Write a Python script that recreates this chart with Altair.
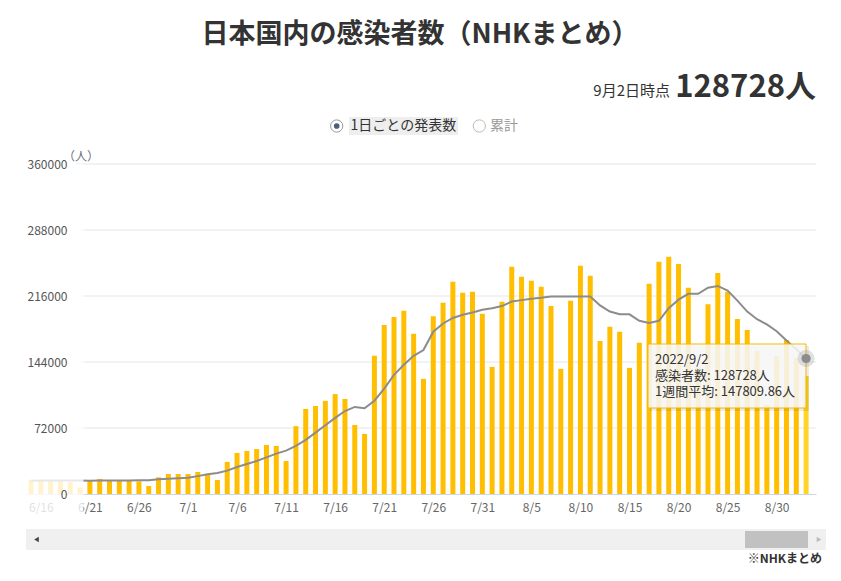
import altair as alt
import pandas as pd

# ---- data ----
dates = list(pd.date_range("2022-06-15", "2022-09-02").strftime("%Y-%m-%d"))

cases = [
    15500, 15000, 14500, 15000, 13000, 7000,                       # 6/15-6/20 (scrolled out)
    15300, 16400, 15000, 14600, 15000, 13800, 8700, 18200, 21800, 21800,  # 6/21-6/30
    21800, 24000, 21000, 15300, 35000, 44800, 47000, 49000, 53500, 52400,  # 7/1-7/10
    36000, 74000, 92800, 96000, 101600, 109000, 103700, 75300, 65500, 150700,  # 7/11-7/20
    184500, 193000, 200000, 174700, 125600, 194000, 208600, 231500, 219500, 220600,  # 7/21-7/30
    196600,                                                          # 7/31
    138700, 209700, 248000, 237000, 232600, 226000, 205000, 136500, 210800, 249000,  # 8/1-8/10
    238000, 167000, 182400, 177000, 137600, 165000, 229300, 253400, 258800, 251000,  # 8/11-8/20
    225000, 138000, 207000, 241000, 220600, 191000, 179000, 156000, 97000, 150600,  # 8/21-8/30
    168000,                                                          # 8/31
    148000, 128728,                                                  # 9/1-9/2
]

week_avg = [
    14500, 14600, 14600, 14700, 14700, 14600,
    14500, 14600, 14700, 14800, 14800, 14900, 15000, 16000, 16600, 17100,
    17800, 19500, 21500, 23000, 25500, 29500, 32800, 36000, 40000, 44000,
    47300, 52400, 59000, 67000, 75000, 83000, 90500, 95000, 93500, 101800,
    115000, 130000, 141000, 150700, 157000, 177000, 186000, 192000, 195500, 198000,
    201000,
    202700, 205000, 210000, 211500, 213000, 214000, 215500, 215500, 215500, 215500,
    215500, 205700, 199000, 196000, 196000, 189000, 186700, 189000, 202700, 212000,
    218400, 218400, 225000, 227000, 222000, 211000, 199000, 190700, 185000, 177600,
    167400,
    158000, 147809.86,
]

y_ticks = [0, 72000, 144000, 216000, 288000, 360000]
x_label_days = [(6, 16), (6, 21), (6, 26), (7, 1), (7, 6), (7, 11), (7, 16), (7, 21),
                (7, 26), (7, 31), (8, 5), (8, 10), (8, 15), (8, 20), (8, 25), (8, 30)]

title_text = "日本国内の感染者数（NHKまとめ）"
asof_text = "9月2日時点"
total_text = "128728人"
legend_items = ["1日ごとの発表数", "累計"]
unit_text = "（人）"
source_text = "※NHKまとめ"
tip_lines = ["2022/9/2", "感染者数: 128728人", "1週間平均: 147809.86人"]

df = pd.DataFrame({"date": dates, "cases": cases, "avg": week_avg})

FONT = "Noto Sans CJK JP"
W, H = 790, 330

x_enc = alt.X(
    "date:T",
    scale=alt.Scale(
        type="utc",
        domain=[alt.DateTime(year=2022, month=6, date=15, utc=True),
                alt.DateTime(year=2022, month=9, date=2, hours=12, utc=True)],
    ),
    axis=alt.Axis(
        values=[alt.DateTime(year=2022, month=m, date=d, utc=True) for m, d in x_label_days],
        format="%-m/%-d", title=None, grid=False, ticks=False, tickSize=0,
        domainColor="#ccd6eb", domainWidth=1, labelColor="#666666",
        labelFont=FONT, labelFontSize=12, labelPadding=8,
        labelOverlap=False, labelFlush=False,
    ),
)
y_scale = alt.Scale(domain=[0, 360000], nice=False)
y_axis = alt.Axis(
    values=y_ticks, format="d", title=None, grid=False, domain=False,
    ticks=False, offset=-50, labelPadding=9, labelColor="#555555",
    labelFont=FONT, labelFontSize=12, zindex=1,
)

base = alt.Chart(df)

grid = alt.Chart(pd.DataFrame({"v": y_ticks[1:]})).mark_rule(
    color="#e6e6e6", strokeWidth=1
).encode(y=alt.Y("v:Q", scale=y_scale, axis=y_axis), x=alt.value(50), x2=alt.value(W))

bars = base.mark_bar(size=5, clip=True).encode(
    x=x_enc, y=alt.Y("cases:Q", scale=y_scale, axis=y_axis),
    color=alt.condition(
        "utcmonth(datum.date) == 8 && utcdate(datum.date) == 2",
        alt.value("#FFD426"), alt.value("#FFBE00"),
    ),
)

line = base.mark_line(clip=True, color="#8c8c8c", strokeWidth=2).encode(
    x="date:T", y=alt.Y("avg:Q", scale=y_scale, axis=y_axis)
)

overlay = alt.Chart(pd.DataFrame({"a": [0]})).mark_rect(
    color="white", opacity=0.8
).encode(x=alt.value(0), x2=alt.value(57.5), y=alt.value(0), y2=alt.value(362))

last = base.transform_filter("utcmonth(datum.date) == 8 && utcdate(datum.date) == 2")
halo = last.mark_point(filled=True, color="#8c8c8c", opacity=0.25, size=290).encode(
    x="date:T", y=alt.Y("avg:Q", scale=y_scale, axis=y_axis))
dot = last.mark_point(filled=True, color="#8c8c8c", opacity=1, size=85).encode(
    x="date:T", y=alt.Y("avg:Q", scale=y_scale, axis=y_axis))


def deco_rect(x, x2, y, y2, **kw):
    return alt.Chart(pd.DataFrame({"a": [0]})).mark_rect(**kw).encode(
        x=alt.value(x), x2=alt.value(x2), y=alt.value(y), y2=alt.value(y2))


def text(t, x, y, **kw):
    return alt.Chart(pd.DataFrame({"t": [t]})).mark_text(font=FONT, **kw).encode(
        x=alt.value(x), y=alt.value(y), text="t:N")


def dotmark(x, y, **kw):
    return alt.Chart(pd.DataFrame({"a": [0]})).mark_point(**kw).encode(
        x=alt.value(x), y=alt.value(y))


tip_shadow = deco_rect(624, 783, 182, 247, color="#000000", opacity=0.08)
tip_box = deco_rect(622, 780, 180, 244, fill="#f9f9f9", fillOpacity=0.86,
                    stroke="#f5b800", strokeWidth=1)
tips = [text(s, 629, 196 + 16 * i, align="left", baseline="middle",
             fontSize=13, color="#333333") for i, s in enumerate(tip_lines)]

title = text(title_text, 394, -129, align="center", baseline="middle",
             fontSize=27, fontWeight="bold", color="#333333")
asof = text(asof_text, 644, -68, align="right", baseline="alphabetic",
            fontSize=15, color="#333333")
total = text(total_text, 790, -67, align="right", baseline="alphabetic",
             fontSize=31, fontWeight="bold", color="#333333")

leg_bg = deco_rect(323, 432, -47, -29, color="#eeeeee")
radio1 = dotmark(310.7, -38, shape="circle", size=150, filled=True, fill="white",
                 stroke="#9a9a9a", strokeWidth=1, opacity=1)
radio1_in = dotmark(310.7, -38, shape="circle", size=32, filled=True,
                    color="#4b5f78", opacity=1)
radio2 = dotmark(453.3, -38, shape="circle", size=150, filled=True, fill="white",
                 stroke="#bbbbbb", strokeWidth=1, opacity=1)
leg1 = text(legend_items[0], 324.5, -38, align="left", baseline="middle",
            fontSize=14, color="#333333")
leg2 = text(legend_items[1], 464, -38, align="left", baseline="middle",
            fontSize=14, color="#999999")

unit = text(unit_text, 55, -7, align="center", baseline="middle",
            fontSize=12, color="#667085")

track = deco_rect(0, 800, 365, 386, color="#f0f0f0")
thumb = deco_rect(719, 782, 367, 384, color="#c1c1c1")
arr_l = dotmark(10.5, 375.5, shape="triangle-left", size=28, filled=True,
                color="#444444", opacity=1)
arr_r = dotmark(793, 375.5, shape="triangle-right", size=28, filled=True,
                color="#bbbbbb", opacity=1)
source = text(source_text, 796, 395, align="right", baseline="middle",
              fontSize=12, fontWeight="bold", color="#333333")

chart = alt.layer(
    grid, bars, line, overlay, tip_shadow, tip_box, *tips, halo, dot,
    title, asof, total, leg_bg, radio1, radio1_in, radio2, leg1, leg2,
    unit, track, thumb, arr_l, arr_r, source,
).properties(
    width=W, height=H,
    autosize=alt.AutoSizeParams(type="none"),
    padding={"left": 18, "top": 156, "right": 17, "bottom": 76},
    background="white",
).configure_view(stroke=None)

chart.save("out.html", embed_options={"renderer": "svg", "actions": False})
